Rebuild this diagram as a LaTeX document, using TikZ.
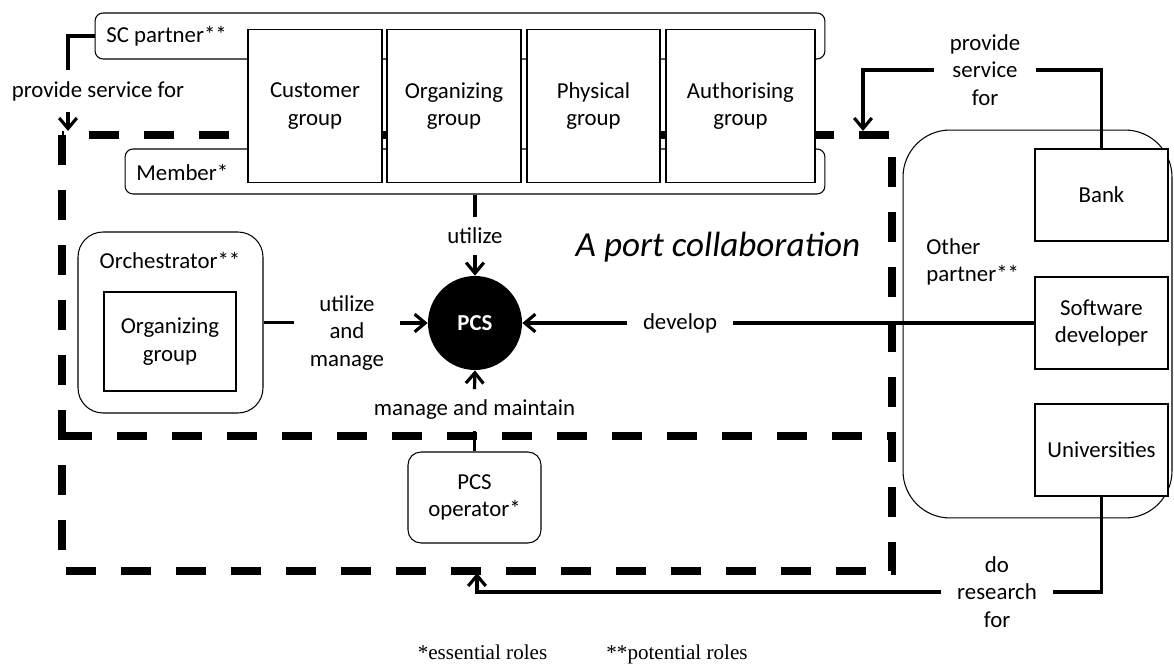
\documentclass[tikz,border=0pt]{standalone}
\usepackage{fontspec}
\setmainfont{Carlito}
\newfontfamily\notefont{Liberation Serif}
\usetikzlibrary{arrows.meta}
\tikzset{
  every node/.style={font=\fontsize{13}{15.5}\selectfont},
  box/.style={draw,line width=0.6pt,fill=white,align=center,inner sep=0pt},
  rbox/.style={box,rounded corners=#1},
  grp/.style={box,minimum height=3.06cm},
  partner/.style={box,minimum width=2.66cm,minimum height=1.84cm},
  conn/.style={line width=1.8pt,>={Straight Barb[length=6pt,width=10pt]}},
  lbl/.style={align=center,inner xsep=9pt,inner ysep=6pt},
  portline/.style={line width=4pt,dash pattern=on 0.6cm off 0.5cm},
  note/.style={font=\notefont\fontsize{12}{14}\selectfont,anchor=base,inner sep=0pt},
}
\begin{document}
\begin{tikzpicture}[x=0.02cm,y=-0.02cm]
\useasboundingbox (0,0) rectangle (1174,665);
\node[rbox=0.16cm,minimum width=14.6cm,minimum height=0.92cm] (scp) at (460,36) {};
\node[anchor=west,inner sep=0pt] (scpt) at (106,36) {SC partner**};
\node[rbox=0.16cm,minimum width=14cm,minimum height=0.9cm] (mem) at (475,171.5) {};
\node[anchor=west,inner sep=0pt] (memt) at (136,172) {Member*};
%% the port collaboration
\draw[portline] (62,135) rectangle (892,571);
\draw[portline] (62,436) -- (892,436);
\node[grp,minimum width=2.68cm] (cust) at (315,106) {Customer\\group};
\node[grp,minimum width=2.68cm] (orgn) at (454,106) {Organizing\\group};
\node[grp,minimum width=2.66cm] (phys) at (593.5,106) {Physical\\group};
\node[grp,minimum width=2.98cm] (auth) at (740.5,106) {Authorising\\group};
\node[font=\fontsize{20}{24}\selectfont\itshape] (title) at (718,247) {A port collaboration};
\node[rbox=0.5cm,minimum width=3.7cm,minimum height=3.62cm] (orch) at (170.5,322.5) {};
\node (orcht) at (170,260) {Orchestrator**};
\node[box,minimum width=2.64cm,minimum height=1.98cm] (orgi) at (170,341.5) {Organizing\\group};
\node[circle,fill=black,text=white,minimum size=1.88cm,inner sep=0pt,font=\fontsize{13}{15.5}\selectfont\bfseries] (pcs) at (475,323) {PCS};
\node[rbox=0.26cm,minimum width=2.66cm,minimum height=1.82cm] (op) at (474.5,497.5) {PCS\\operator*};
\node[rbox=0.94cm,minimum width=5.38cm,minimum height=7.76cm] (oth) at (1037.5,324) {};
\node[anchor=west,align=left,inner sep=0pt] (otht) at (926,262) {Other\\partner**};
\node[partner] (bank) at (1101.5,195) {Bank};
\node[partner] (soft) at (1101.5,323) {Software\\developer};
\node[partner] (uni) at (1101.5,450) {Universities};
%% connectors
\node[lbl] (psf1) at (98,91) {provide service for};
\coordinate (dtl) at (68,131);
\draw[conn] (scp.west) -| (psf1.north -| dtl);
\draw[conn,->] (psf1.south -| dtl) -- (dtl);
\node[lbl] (psf2) at (985,70) {provide\\service\\for};
\coordinate (dtr) at (863,131);
\draw[conn] (bank.north) |- (psf2.east);
\draw[conn,->] (psf2.west) -| (dtr);
\node[lbl] (ut) at (475,236) {utilize};
\draw[conn] (mem.south) -- (ut.north);
\draw[conn,->] (ut.south) -- (pcs.north);
\node[lbl] (um) at (347,333) {utilize\\and\\manage};
\draw[conn] (orch.east) -- (orch.east -| um.west);
\draw[conn,->] (um.east |- pcs.west) -- (pcs.west);
\node[lbl] (dev) at (680,323) {develop};
\draw[conn] (soft.west) -- (dev.east);
\draw[conn,->] (dev.west) -- (pcs.east);
\node[lbl] (mm) at (474.5,410) {manage and maintain};
\draw[conn] (op.north) -- (mm.south);
\draw[conn,->] (mm.north) -- (pcs.south);
\node[lbl] (dr) at (997,592) {do\\research\\for};
\coordinate (dbt) at (477,573);
\draw[conn] (uni.south) |- (dr.east);
\draw[conn,->] (dr.west) -| (dbt);
\node[note] (ess) at (482.5,660) {*essential roles};
\node[note] (pot) at (677,660) {**potential roles};
\end{tikzpicture}
\end{document}
